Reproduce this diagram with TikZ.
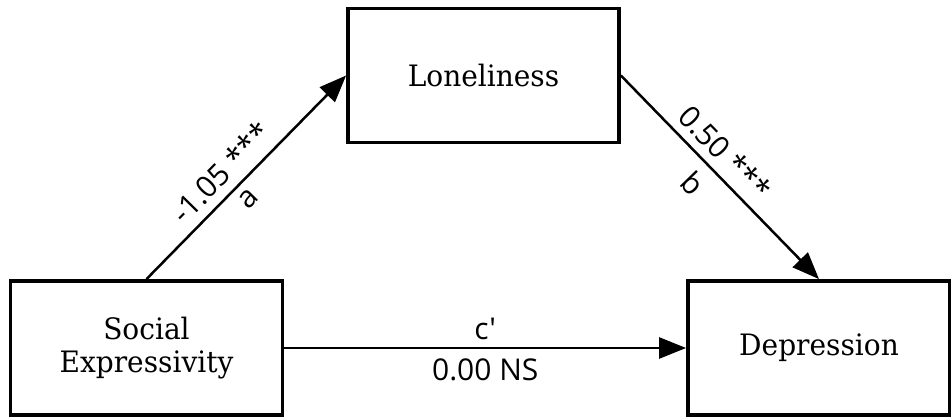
\documentclass[tikz,border=0pt]{standalone}
\usepackage{fontspec}
\setmainfont{DejaVu Serif}[FakeStretch=0.95]
\newfontfamily\coeffont{Open Sans}
\usetikzlibrary{arrows.meta}

\begin{document}
\begin{tikzpicture}[x=1pt, y=1pt, line width=2.5pt,
    varbox/.style={draw, line width=3.8pt, minimum height=134pt, align=center,
      inner sep=0pt, font=\fontsize{29.5}{33}\selectfont},
    effect/.style={-{Triangle[length=27pt, width=21pt]}},
    coef/.style={font=\coeffont\fontsize{30}{32}\selectfont, inner sep=2pt}]
  \useasboundingbox (0,0) rectangle (951,418);
  \node[varbox, minimum width=272pt] (social) at (146.5,70) {Social\\Expressivity};
  \node[varbox, minimum width=271pt] (lonely) at (483.5,342.5) {Loneliness};
  \node[varbox, minimum width=262pt] (depress) at (819,70) {Depression};
  \draw[effect] (social.north) -- (lonely.west)
    node[coef, pos=0.45, sloped, above=7pt] {-1.05 ***}
    node[coef, pos=0.45, sloped, below=5pt] {a};
  \draw[effect] (lonely.east) -- (depress.north)
    node[coef, pos=0.45, sloped, above=6pt] {0.50 ***}
    node[coef, pos=0.45, sloped, below=9pt] {b};
  \draw[effect] (social.east) -- (depress.west)
    node[coef, pos=0.5, above=5pt] {c'}
    node[coef, pos=0.5, below=7pt] {0.00 NS};
\end{tikzpicture}
\end{document}
